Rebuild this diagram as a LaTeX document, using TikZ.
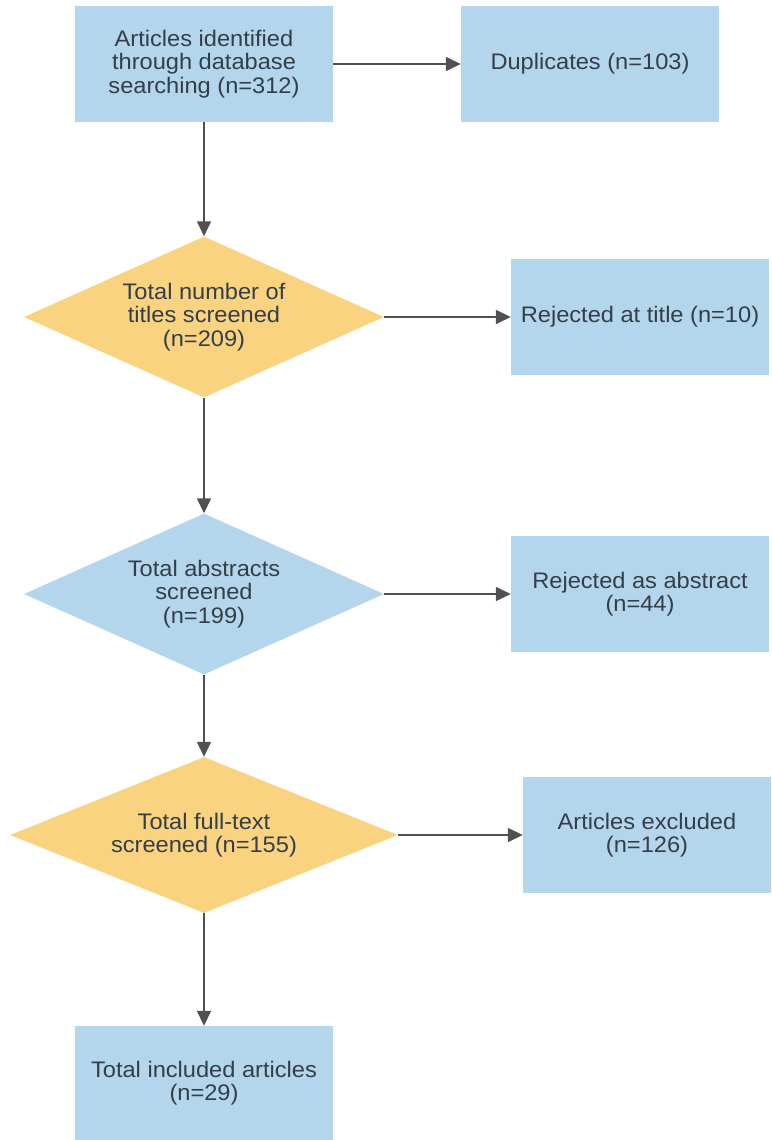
\documentclass[tikz,border=0pt]{standalone}
\usepackage{fontspec}
\setmainfont{Liberation Sans}[FakeStretch=1.05]
\usetikzlibrary{arrows.meta,shapes.geometric}
\definecolor{boxblue}{RGB}{179,214,236}
\definecolor{boxyellow}{RGB}{249,211,128}
\definecolor{textgray}{RGB}{52,62,72}
\definecolor{linegray}{RGB}{80,80,80}
\tikzset{
	block/.style={
		rectangle,
		fill=boxblue,
		minimum width=258,
		minimum height=116,
		align=center,
		text=textgray,
		font=\fontsize{22.5}{23.5}\selectfont
	},
	decision/.style={
		diamond,
		aspect=2.24,
		inner sep=0pt,
		minimum width=360,
		minimum height=161,
		align=center,
		text=textgray,
		font=\fontsize{22.5}{23.5}\selectfont
	},
	arrow/.style={
		draw=linegray,
		line width=1.5pt,
		-{Triangle[length=15pt,width=14pt]}
	},
}
\begin{document}
\begin{tikzpicture}[x=1pt,y=-1pt]
		\useasboundingbox (0,0) rectangle (771,1140);
		\node (ident) [block] at (204,64) {Articles identified\\through database\\searching (n=312)};
		\node (dup) [block] at (590,64) {Duplicates (n=103)};
		\node (titles) [decision,fill=boxyellow] at (204,317) {Total number of\\titles screened\\(n=209)};
		\node (rtitle) [block] at (640,317) {Rejected at title (n=10)};
		\node (abstr) [decision,fill=boxblue] at (204,594) {Total abstracts\\screened\\(n=199)};
		\node (rabs) [block] at (640,594) {Rejected as abstract\\(n=44)};
		\node (full) [decision,fill=boxyellow,minimum width=388,minimum height=156,aspect=2.49] at (204,835) {Total full-text\\screened (n=155)};
		\node (excl) [block,minimum width=248] at (647,835) {Articles excluded\\(n=126)};
		\node (incl) [block,minimum height=114] at (204,1083) {Total included articles\\(n=29)};
		\draw [arrow] (ident) -- (dup);
		\draw [arrow] (ident) -- (titles);
		\draw [arrow] (titles) -- (rtitle);
		\draw [arrow] (titles) -- (abstr);
		\draw [arrow] (abstr) -- (rabs);
		\draw [arrow] (abstr) -- (full);
		\draw [arrow] (full) -- (excl);
		\draw [arrow] (full) -- (incl);
		\end{tikzpicture}
\end{document}
